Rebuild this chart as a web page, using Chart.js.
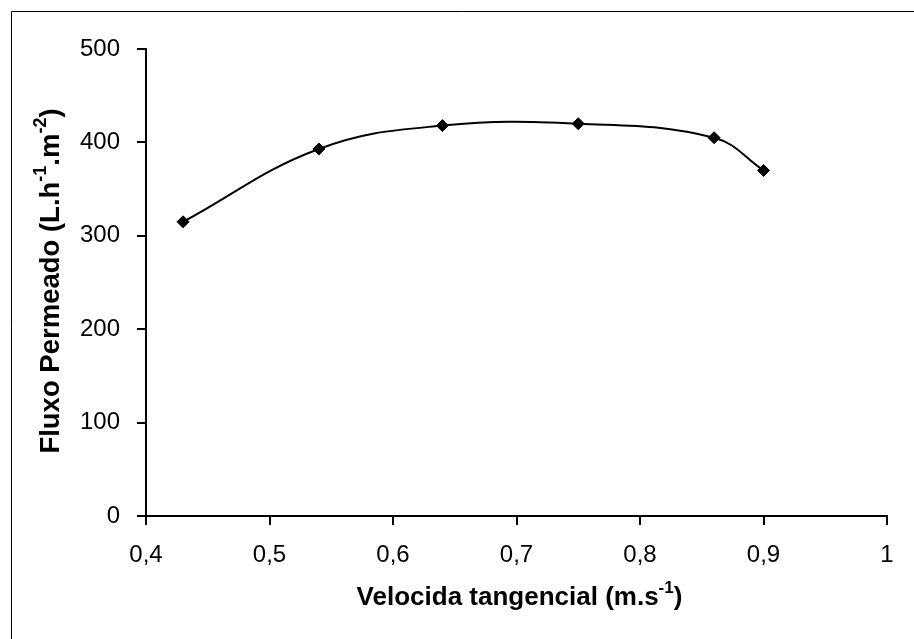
<!DOCTYPE html>
<html>
<head>
<meta charset="utf-8">
<script src="https://cdn.jsdelivr.net/npm/chart.js@4"></script>
<style>
  body { margin: 0; background: #fff; }
  #wrap { width: 914px; height: 639px; }
</style>
</head>
<body>
<div id="wrap"><canvas id="chart" width="914" height="639"></canvas></div>
<script>
// data
const velocidade = [0.43, 0.54, 0.64, 0.75, 0.86, 0.90];
const fluxo = [315, 393, 418, 420, 405, 370];

const xTickValues = [0.4, 0.5, 0.6, 0.7, 0.8, 0.9, 1];
const xTickLabels = ["0,4", "0,5", "0,6", "0,7", "0,8", "0,9", "1"];
const yTickValues = [0, 100, 200, 300, 400, 500];

const xTitle = [["Velocida tangencial (m.s", false], ["-1", true], [")", false]];
const yTitle = [["Fluxo Permeado (L.h", false], ["-1", true], [".m", false], ["-2", true], [")", false]];

const FONT = "'Liberation Sans', Arial, sans-serif";

function drawRich(ctx, parts, size) {
  const supSize = Math.round(size * 0.65);
  let total = 0;
  parts.forEach(([t, sup]) => {
    ctx.font = `bold ${sup ? supSize : size}px ${FONT}`;
    total += ctx.measureText(t).width;
  });
  let x = -total / 2;
  parts.forEach(([t, sup]) => {
    ctx.font = `bold ${sup ? supSize : size}px ${FONT}`;
    ctx.fillText(t, x, sup ? -size * 0.36 : 0);
    x += ctx.measureText(t).width;
  });
}

const decor = {
  id: "decor",
  beforeDraw(chart) {
    const ctx = chart.ctx;
    ctx.save();
    ctx.fillStyle = "#fff";
    ctx.fillRect(0, 0, chart.width, chart.height);
    ctx.strokeStyle = "#000";
    ctx.lineWidth = 1;
    ctx.beginPath();
    ctx.moveTo(11.5, chart.height);
    ctx.lineTo(11.5, 11.5);
    ctx.lineTo(chart.width, 11.5);
    ctx.stroke();
    ctx.restore();
  },
  afterDraw(chart) {
    const ctx = chart.ctx;
    const a = chart.chartArea;
    ctx.save();
    ctx.fillStyle = "#000";
    ctx.textBaseline = "middle";
    ctx.textAlign = "left";
    ctx.translate((a.left + a.right) / 2 + 3, 598);
    drawRich(ctx, xTitle, 26);
    ctx.restore();

    ctx.save();
    ctx.fillStyle = "#000";
    ctx.textBaseline = "middle";
    ctx.textAlign = "left";
    ctx.translate(51, 281);
    ctx.rotate(-Math.PI / 2);
    drawRich(ctx, yTitle, 27.5);
    ctx.restore();
  }
};

new Chart(document.getElementById("chart"), {
  type: "line",
  data: {
    datasets: [{
      data: velocidade.map((v, i) => ({ x: v, y: fluxo[i] })),
      borderColor: "#000",
      borderWidth: 2,
      backgroundColor: "#000",
      pointStyle: "rectRot",
      pointRadius: 6,
      pointBorderWidth: 1,
      tension: 0.4,
      fill: false
    }]
  },
  options: {
    responsive: false,
    animation: false,
    layout: { padding: { left: 0, right: 27, top: 49, bottom: 0 } },
    plugins: { legend: { display: false }, tooltip: { enabled: false } },
    scales: {
      x: {
        type: "linear",
        min: 0.4,
        max: 1,
        afterFit: s => { s.height = 123; },
        afterBuildTicks: s => { s.ticks = xTickValues.map(v => ({ value: v })); },
        ticks: {
          color: "#000",
          padding: 16,
          font: { family: FONT, size: 24 },
          callback: (v, i) => xTickLabels[i]
        },
        grid: { drawOnChartArea: false, tickLength: 9, color: "#000", lineWidth: 2 },
        border: { color: "#000", width: 2 }
      },
      y: {
        min: 0,
        max: 500,
        afterFit: s => { s.width = 146; },
        afterBuildTicks: s => { s.ticks = yTickValues.map(v => ({ value: v })); },
        ticks: {
          color: "#000",
          padding: 17,
          font: { family: FONT, size: 24 }
        },
        grid: { drawOnChartArea: false, tickLength: 9, color: "#000", lineWidth: 2 },
        border: { color: "#000", width: 2 }
      }
    }
  },
  plugins: [decor]
});
</script>
</body>
</html>
